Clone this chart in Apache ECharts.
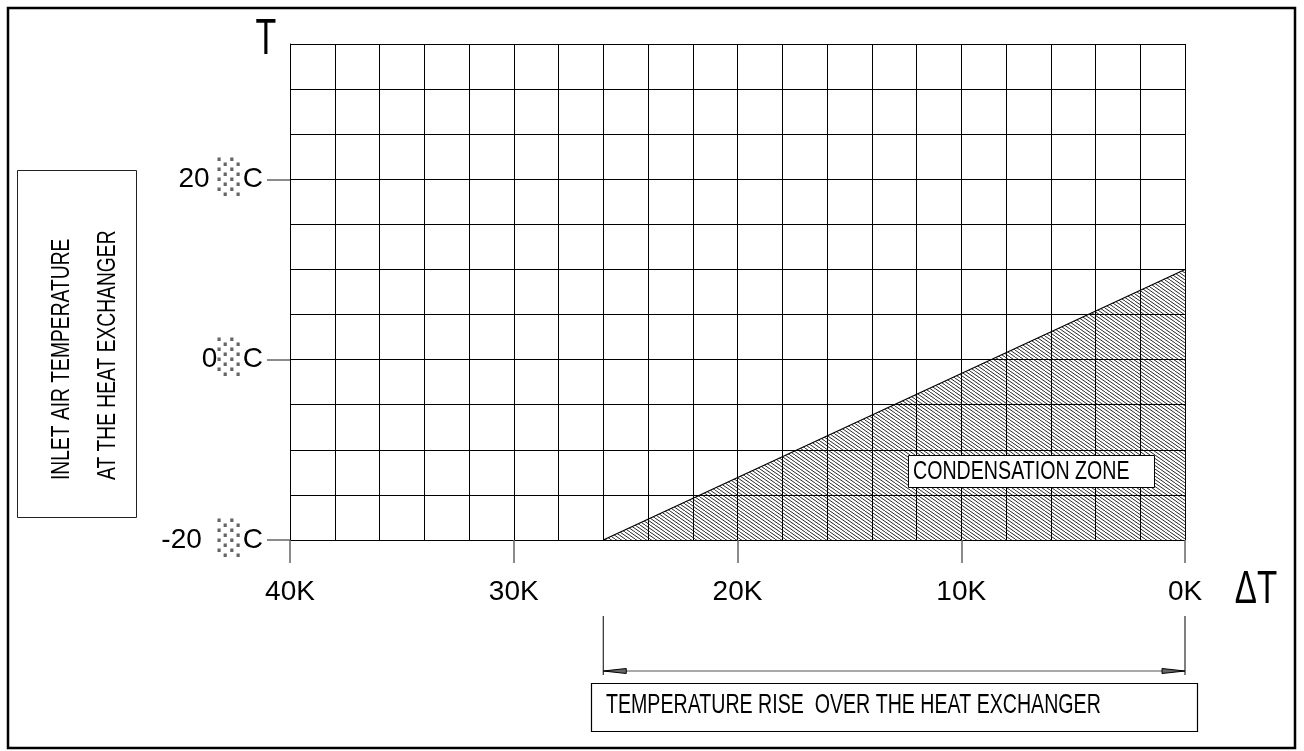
<!DOCTYPE html>
<html><head><meta charset="utf-8">
<script src="https://cdn.jsdelivr.net/npm/echarts@6/dist/echarts.min.js"></script>
<style>html,body{margin:0;padding:0;background:#fff}#c{width:1304px;height:751px}</style>
</head><body><div id="c"></div>
<script>
// ---- data ----
const xRange = [0, 40];            // temperature rise, K (axis reversed)
const yRange = [-20, 35];          // inlet air temperature, °C
const xGridStep = 2;
const yGridStep = 5;
const xTickValues = [0, 10, 20, 30, 40];
const yTickValues = [-20, 0, 20];
const yTickText = {'-20': '-20  ', '0': '0', '20': '20 '};
const zoneEdge = [[26, -20], [0, 10]];   // upper boundary of condensation zone
const zoneSpan = [26, 0];                // dimension line ends (K)
const zoneLabel = 'CONDENSATION ZONE';
const yTitle = ['INLET AIR TEMPERATURE', 'AT THE HEAT EXCHANGER'];
const xTitle = 'TEMPERATURE RISE  OVER THE HEAT EXCHANGER';
const yName = 'T';
const xName = 'ΔT';

const FONT = "'Liberation Sans','Arial',sans-serif";

function hatch() {
  const c = document.createElement('canvas');
  c.width = 10; c.height = 7;
  const g = c.getContext('2d');
  g.strokeStyle = '#000'; g.lineWidth = 0.85;
  for (let k = -3; k <= 3; k++) {
    g.beginPath(); g.moveTo(k * 5, 0); g.lineTo(k * 5 + 10, 7); g.stroke();
  }
  return c;
}

const chart = echarts.init(document.getElementById('c'), null, {renderer: 'canvas'});
const gridAxisCommon = {
  axisLabel: {show: false}, axisTick: {show: false},
  axisLine: {show: true, onZero: false, lineStyle: {color: '#000', width: 1}},
  splitLine: {show: true, lineStyle: {color: '#000', width: 1}}
};
chart.setOption({
  animation: false,
  backgroundColor: '#fff',
  grid: {left: 290, right: 119, top: 44, bottom: 211},
  xAxis: [
    Object.assign({type: 'value', min: xRange[0], max: xRange[1], interval: xGridStep, inverse: true, position: 'bottom'}, gridAxisCommon),
    {type: 'value', min: xRange[0], max: xRange[1], interval: 10, inverse: true, position: 'bottom',
     axisLine: {show: false, onZero: false}, splitLine: {show: false},
     axisTick: {show: true, length: 23, customValues: xTickValues, lineStyle: {color: '#666', width: 1.5}},
     axisLabel: {show: true, margin: 38, fontSize: 28, fontFamily: FONT, color: '#000',
       customValues: xTickValues, formatter: v => v + 'K'}}
  ],
  yAxis: [
    Object.assign({type: 'value', min: yRange[0], max: yRange[1], interval: yGridStep}, gridAxisCommon),
    {type: 'value', min: yRange[0], max: yRange[1], position: 'left',
     axisLine: {show: false, onZero: false}, splitLine: {show: false},
     axisTick: {show: true, length: 23, customValues: yTickValues, lineStyle: {color: '#666', width: 1.5}},
     axisLabel: {show: true, margin: 27, customValues: yTickValues,
       formatter: v => '{n|' + yTickText[String(v)] + '}{s|░}{n|C}',
       rich: {n: {fontSize: 28, fontFamily: FONT, color: '#000'},
              s: {fontSize: 33, fontFamily: "'DejaVu Sans'", color: '#666'}}}}
  ],
  series: [{
    type: 'line', xAxisIndex: 0, yAxisIndex: 0, data: zoneEdge, symbol: 'none',
    lineStyle: {color: '#000', width: 1.2},
    areaStyle: {origin: 'start', color: {image: hatch(), repeat: 'repeat'}, opacity: 1},
    z: 3
  }]
});

const px = v => chart.convertToPixel({xAxisIndex: 0}, v);
const x1 = px(zoneSpan[0]), x2 = px(zoneSpan[1]);
const dimY = 671;
const txt = (o) => ({type: 'text', z: 10, ...o});
chart.setOption({
  graphic: [
    {type: 'rect', shape: {x: 8, y: 8, width: 1287, height: 740}, style: {fill: 'none', stroke: '#000', lineWidth: 2.5}},
    {type: 'rect', shape: {x: 17.5, y: 170.5, width: 119, height: 347}, style: {fill: 'none', stroke: '#222', lineWidth: 1}},
    txt({x: 62, y: 480, rotation: Math.PI / 2, scaleX: 0.77, style: {text: yTitle[0], font: '25px ' + FONT, fill: '#000', align: 'left', verticalAlign: 'middle'}}),
    txt({x: 108, y: 480, rotation: Math.PI / 2, scaleX: 0.77, style: {text: yTitle[1], font: '25px ' + FONT, fill: '#000', align: 'left', verticalAlign: 'middle'}}),
    txt({x: 266, y: 40, scaleX: 0.68, style: {text: yName, font: '50px ' + FONT, fill: '#000', align: 'center', verticalAlign: 'middle'}}),
    txt({x: 1256, y: 590, scaleX: 0.72, style: {text: xName, font: '46px ' + FONT, fill: '#000', align: 'center', verticalAlign: 'middle'}}),
    {type: 'rect', z: 10, shape: {x: 908.5, y: 455.5, width: 246, height: 32}, style: {fill: '#fff', stroke: '#000', lineWidth: 1}},
    txt({x: 913, y: 472, scaleX: 0.785, style: {text: zoneLabel, font: '25px ' + FONT, fill: '#000', align: 'left', verticalAlign: 'middle'}}),
    {type: 'line', shape: {x1: x1, y1: 616, x2: x1, y2: 675}, style: {stroke: '#000', lineWidth: 1}},
    {type: 'line', shape: {x1: x2, y1: 616, x2: x2, y2: 675}, style: {stroke: '#555', lineWidth: 1.5}},
    {type: 'line', shape: {x1: x1, y1: dimY, x2: x2, y2: dimY}, style: {stroke: '#555', lineWidth: 1.2}},
    {type: 'polygon', shape: {points: [[x1, dimY], [x1 + 23, dimY - 2.5], [x1 + 23, dimY + 2.5]]}, style: {fill: '#666', stroke: '#000', lineWidth: 1}},
    {type: 'polygon', shape: {points: [[x2, dimY], [x2 - 23, dimY - 2.5], [x2 - 23, dimY + 2.5]]}, style: {fill: '#666', stroke: '#000', lineWidth: 1}},
    {type: 'rect', shape: {x: 591.5, y: 683.5, width: 606, height: 48}, style: {fill: 'none', stroke: '#000', lineWidth: 1.2}},
    txt({x: 606, y: 705, scaleX: 0.70, style: {text: xTitle, font: '28px ' + FONT, fill: '#000', align: 'left', verticalAlign: 'middle'}})
  ]
});
</script>
</body></html>
